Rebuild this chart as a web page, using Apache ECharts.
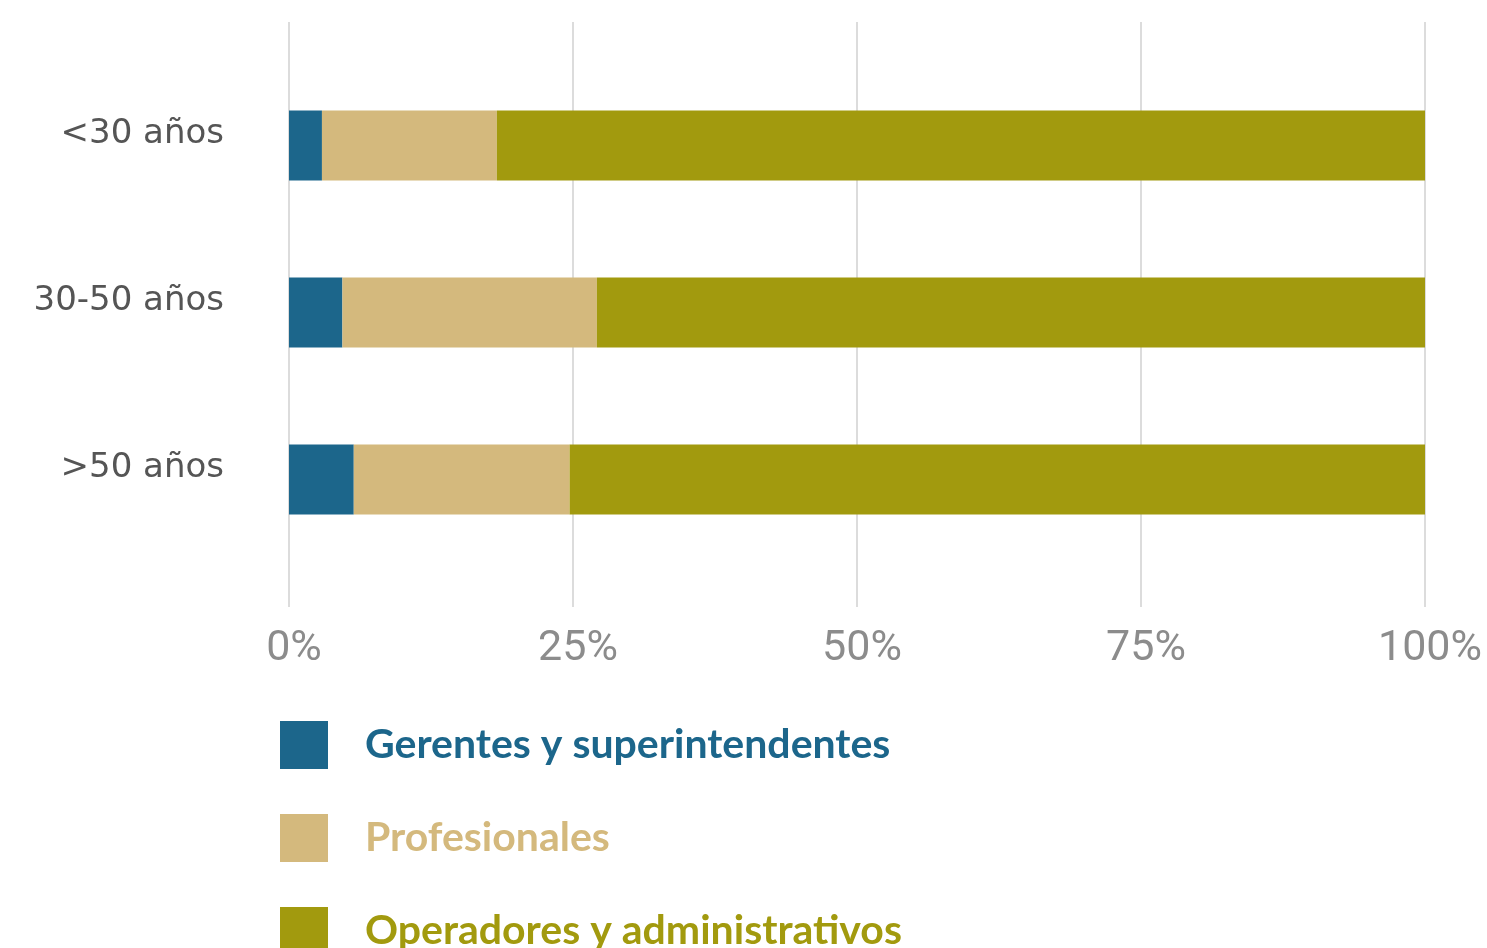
<!DOCTYPE html>
<html>
<head>
<meta charset="utf-8">
<script src="https://cdn.jsdelivr.net/npm/echarts@6/dist/echarts.min.js"></script>
<style>
  html, body { margin: 0; padding: 0; background: #ffffff; }
  #chart { width: 1487px; height: 948px; }
</style>
</head>
<body>
<div id="chart"></div>
<script>
// Age groups, top to bottom
const categories = ['<30 años', '30-50 años', '>50 años'];

// Share of each job level within every age group (%)
const gerentes = [2.9, 4.7, 5.7];
const profesionales = [15.4, 22.4, 19.0];
const operadores = [81.7, 72.9, 75.3];

const seriesNames = ['Gerentes y superintendentes', 'Profesionales', 'Operadores y administrativos'];
const seriesColors = ['#1c668b', '#d4b97d', '#a29a0e'];

// Percentage ticks along the bottom
const tickValues = [0, 25, 50, 75, 100];

const chart = echarts.init(document.getElementById('chart'), null, { renderer: 'canvas' });

const values = [gerentes, profesionales, operadores];

// One legend block per series, stacked under the chart
const legendTops = [721, 814, 907];
const legends = seriesNames.map((n, i) => ({
  orient: 'vertical',
  left: 280,
  top: legendTops[i],
  padding: 0,
  itemWidth: 48,
  itemHeight: 48,
  icon: 'rect',
  selectedMode: false,
  data: [{ name: n, textStyle: { color: seriesColors[i] } }],
  textStyle: {
    fontFamily: 'Lato, Open Sans, sans-serif',
    fontWeight: 'bold',
    fontSize: 41,
    padding: [0, 0, 4, 32]
  }
}));

const option = {
  backgroundColor: '#ffffff',
  animation: false,
  grid: [
    // bars
    { left: 289, width: 1136, top: 62, height: 501, containLabel: false },
    // gridlines and percentage labels
    { left: 289, width: 1136, top: 22, height: 585, containLabel: false }
  ],
  xAxis: [
    {
      gridIndex: 0, type: 'value', min: 0, max: 100, interval: 25,
      show: false
    },
    {
      gridIndex: 1, type: 'value', min: tickValues[0], max: tickValues[tickValues.length - 1], interval: 25,
      axisLine: { show: false },
      axisTick: { show: false },
      splitLine: { show: true, lineStyle: { color: '#dcdcdc', width: 2 } },
      axisLabel: {
        margin: 21,
        fontFamily: 'Liberation Sans Narrow, Roboto, sans-serif',
        fontSize: 43,
        color: '#8c8c8c',
        padding: [0, 0, 0, 10],
        formatter: v => v + '%'
      }
    }
  ],
  yAxis: [
    {
      gridIndex: 0, type: 'category', data: categories, inverse: true,
      axisLine: { show: false },
      axisTick: { show: false },
      splitLine: { show: false },
      axisLabel: {
        margin: 65,
        fontFamily: 'DejaVu Sans, sans-serif',
        fontSize: 34,
        color: '#555555',
        verticalAlign: 'bottom',
        lineHeight: 22
      }
    },
    {
      gridIndex: 1, type: 'category', data: categories, show: false
    }
  ],
  legend: legends,
  series: seriesNames.map((n, i) => ({
    name: n,
    type: 'bar',
    stack: 'total',
    xAxisIndex: 0,
    yAxisIndex: 0,
    barWidth: 70,
    data: values[i],
    itemStyle: { color: seriesColors[i] },
    emphasis: { disabled: true }
  }))
};

chart.setOption(option);
</script>
</body>
</html>
